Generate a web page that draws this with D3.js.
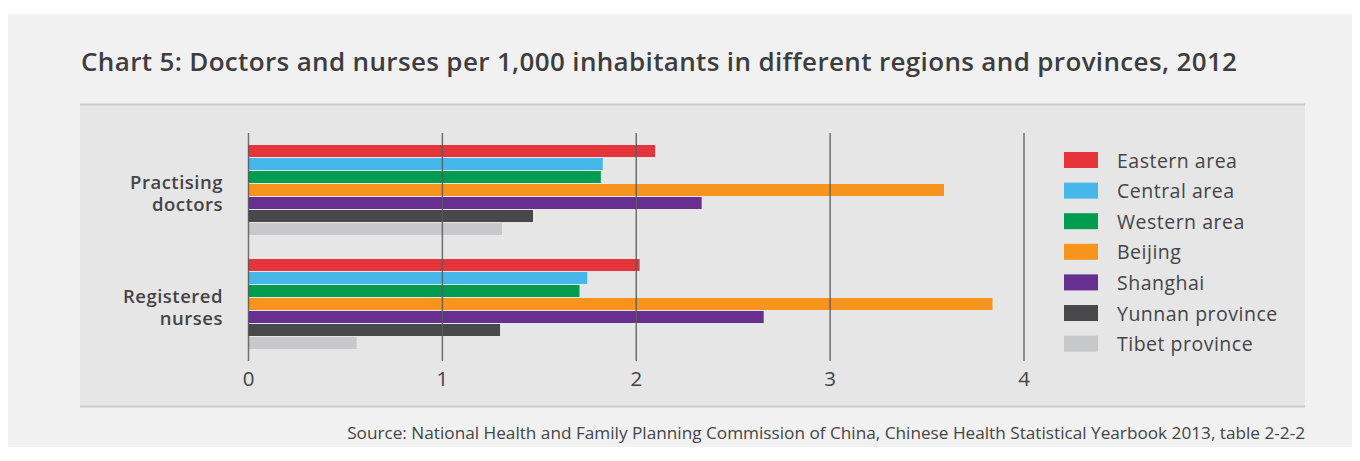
<!DOCTYPE html>
<html>
<head>
<meta charset="utf-8">
<script src="https://cdn.jsdelivr.net/npm/d3@7/dist/d3.min.js"></script>
<style>
  html, body { margin: 0; padding: 0; background: #ffffff; }
  svg { display: block; }
  text { font-family: "Open Sans", "Noto Sans", sans-serif; }
</style>
</head>
<body>
<svg id="chart" width="1360" height="461"></svg>
<script>
// Indicator groups (y axis) and regions (series)
const categories = [["Practising", "doctors"], ["Registered", "nurses"]];
const seriesNames = ["Eastern area", "Central area", "Western area", "Beijing", "Shanghai", "Yunnan province", "Tibet province"];
const seriesColors = ["#e5353b", "#47b7ea", "#009c4f", "#f7941e", "#673090", "#48484a", "#c7c8c9"];

// Per 1,000 inhabitants, 2012
const eastern  = [2.10, 2.02];
const central  = [1.83, 1.75];
const western  = [1.82, 1.71];
const beijing  = [3.59, 3.84];
const shanghai = [2.34, 2.66];
const yunnan   = [1.47, 1.30];
const tibet    = [1.31, 0.56];
const seriesValues = [eastern, central, western, beijing, shanghai, yunnan, tibet];

const xTicks = [0, 1, 2, 3, 4];

const titleText = "Chart 5: Doctors and nurses per 1,000 inhabitants in different regions and provinces, 2012";
const sourceText = "Source: National Health and Family Planning Commission of China, Chinese Health Statistical Yearbook 2013, table 2-2-2";

const svg = d3.select("#chart");
const textColor = "#444446";

// Panels
svg.append("rect").attr("x", 8).attr("y", 14).attr("width", 1344).attr("height", 433).attr("fill", "#f1f1f1");
svg.append("rect").attr("x", 80).attr("y", 104).attr("width", 1225).attr("height", 303).attr("fill", "#e6e6e6");
svg.append("line").attr("x1", 80).attr("x2", 1305).attr("y1", 104.5).attr("y2", 104.5).attr("stroke", "#c9c9c9").attr("stroke-width", 2);
svg.append("line").attr("x1", 80).attr("x2", 1305).attr("y1", 406.5).attr("y2", 406.5).attr("stroke", "#c9c9c9").attr("stroke-width", 2);

// Title
svg.append("text").attr("x", 81).attr("y", 71)
  .attr("font-size", 26).attr("font-weight", 600).attr("letter-spacing", 0.35).attr("fill", "#3d3d3f")
  .text(titleText);

// Scales
const x = d3.scaleLinear().domain([0, 4]).range([248, 1023.5]);
const yGroup = d3.scaleBand().domain(d3.range(categories.length)).range([145, 350]).paddingInner(23 / 114).paddingOuter(0);
const ySeries = d3.scaleBand().domain(d3.range(seriesNames.length)).range([0, 90]).paddingInner(1 / 13).paddingOuter(0);

// Bars
const groups = svg.append("g").selectAll("g").data(categories).join("g")
  .attr("transform", (d, i) => `translate(0,${yGroup(i)})`);
groups.selectAll("rect").data((d, gi) => seriesValues.map((vals, si) => ({ si, v: vals[gi] })))
  .join("rect")
  .attr("x", x(0))
  .attr("y", d => ySeries(d.si))
  .attr("width", d => x(d.v) - x(0))
  .attr("height", ySeries.bandwidth())
  .attr("fill", d => seriesColors[d.si]);

// Grid lines and tick labels
const xAxis = d3.axisBottom(x).tickValues(xTicks).tickSize(-228).tickPadding(10).tickFormat(d3.format("d"));
const axisG = svg.append("g").attr("transform", "translate(0,361)").call(xAxis);
axisG.select(".domain").remove();
axisG.selectAll(".tick line").attr("stroke", "#5a5a5a").attr("stroke-opacity", 0.85).attr("stroke-width", 1.5);
axisG.selectAll(".tick text").attr("fill", textColor).attr("font-size", 20.5)
  .attr("font-family", "'Open Sans', 'Noto Sans', sans-serif");

// Category labels, two lines each, right-aligned against the axis
categories.forEach((lines, i) => {
  const cy = yGroup(i) + yGroup.bandwidth() / 2;
  lines.forEach((ln, k) => {
    svg.append("text").attr("x", 223).attr("y", cy - 2 + k * 22.5).attr("text-anchor", "end")
      .attr("font-size", 18.5).attr("font-weight", 600).attr("letter-spacing", 0.5).attr("fill", textColor)
      .text(ln);
  });
});

// Legend
const legend = svg.append("g").selectAll("g").data(seriesNames).join("g")
  .attr("transform", (d, i) => `translate(1064,${152 + i * 30.6})`);
legend.append("rect").attr("width", 34).attr("height", 16).attr("fill", (d, i) => seriesColors[i]);
legend.append("text").attr("x", 53).attr("y", 15.5).attr("font-size", 19.5).attr("letter-spacing", 0.5)
  .attr("fill", textColor).text(d => d);

// Source
svg.append("text").attr("x", 1305).attr("y", 439).attr("text-anchor", "end")
  .attr("font-size", 17.2).attr("fill", textColor).text(sourceText);
</script>
</body>
</html>
